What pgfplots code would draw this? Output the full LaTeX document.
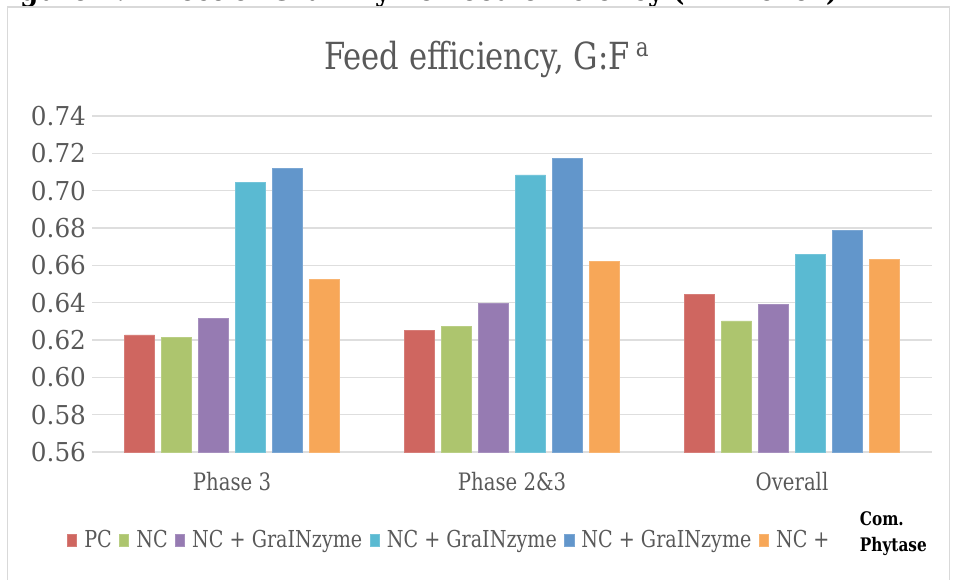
\documentclass[border=0pt]{standalone}
\usepackage{pgfplots}
\pgfplotsset{compat=1.18}
\usepackage{fontspec}
\setmainfont{DejaVu Serif}[FakeStretch=0.82]
\newfontfamily\tickfont{DejaVu Serif}[FakeStretch=0.95]
\definecolor{pcred}{HTML}{CF6660}
\definecolor{ncgreen}{HTML}{ADC56E}
\definecolor{grpurple}{HTML}{967BB2}
\definecolor{grcyan}{HTML}{5ABAD2}
\definecolor{grblue}{HTML}{6296CB}
\definecolor{phorange}{HTML}{F7A758}
\definecolor{txt}{HTML}{595959}

\begin{document}
\begin{tikzpicture}
\useasboundingbox (0,0) rectangle (717pt,434.25pt);
\clip (0,0) rectangle (717pt,434.25pt);
% cut-off figure caption at the top
\node[anchor=base west,inner sep=0pt,font=\bfseries\fontsize{24}{28}\selectfont] at (-6pt,433.75pt)
 {Figure 1. Effect of GraINzyme Feed efficiency (21 month)};
% chart frame
\draw[black!15,line width=0.8pt] (5.5pt,-2pt) rectangle (712pt,429pt);
\node[txt,font=\fontsize{28}{32}\selectfont] at (365pt,390pt) {Feed efficiency, G:F\,\textsuperscript{a}};
\begin{axis}[at={(69pt,95.25pt)},anchor=south west,scale only axis,width=630pt,height=252pt,
 ybar=5.25pt,bar width=22.5pt,
 xmin=-0.5,xmax=2.5,ymin=0.56,ymax=0.74,
 xtick={0,1,2},xticklabels={Phase 3,Phase 2\&3,Overall},
 ytick={0.56,0.58,...,0.741},
 yticklabel style={/pgf/number format/fixed,/pgf/number format/fixed zerofill,
  /pgf/number format/precision=2,/pgf/number format/assume math mode=true,
  xshift=-1pt,font=\tickfont\fontsize{19.5}{22}\selectfont},
 ticklabel style={txt,font=\fontsize{18}{21}\selectfont},
 xticklabel style={yshift=-12pt},
 major tick length=0pt,
 ymajorgrids,grid style={black!13,line width=0.8pt},
 axis x line*=bottom,axis y line*=left,
 x axis line style={black!13,line width=0.8pt,-},
 y axis line style={draw=none},
 legend columns=6,
 legend style={at={(-0.03,-0.262)},anchor=west,draw=none,fill=none,inner sep=0pt,
  font=\fontsize{17.5}{21}\selectfont,text=txt,
  nodes={inner sep=2.5pt},
  /tikz/every even column/.append style={column sep=3pt},
  /tikz/every odd column/.append style={column sep=3pt}},
 legend image code/.code={\fill[#1] (0pt,-4.5pt) rectangle (7pt,4.5pt);},
]
\addplot[fill=pcred,draw=pcred!85!white] coordinates {(0,0.6228) (1,0.6252) (2,0.6443)};
\addplot[fill=ncgreen,draw=ncgreen!85!white] coordinates {(0,0.6212) (1,0.6273) (2,0.6303)};
\addplot[fill=grpurple,draw=grpurple!85!white] coordinates {(0,0.6314) (1,0.6397) (2,0.6389)};
\addplot[fill=grcyan,draw=grcyan!85!white] coordinates {(0,0.7045) (1,0.7084) (2,0.6659)};
\addplot[fill=grblue,draw=grblue!85!white] coordinates {(0,0.7120) (1,0.7175) (2,0.6789)};
\addplot[fill=phorange,draw=phorange!85!white] coordinates {(0,0.6525) (1,0.6623) (2,0.6632)};
\legend{PC,NC,NC + GraINzyme,NC + GraINzyme,NC + GraINzyme,NC +}
\end{axis}
\node[align=left,font=\bfseries\fontsize{14}{19}\selectfont] at (670pt,34pt) {Com.\\Phytase};
\end{tikzpicture}
\end{document}
